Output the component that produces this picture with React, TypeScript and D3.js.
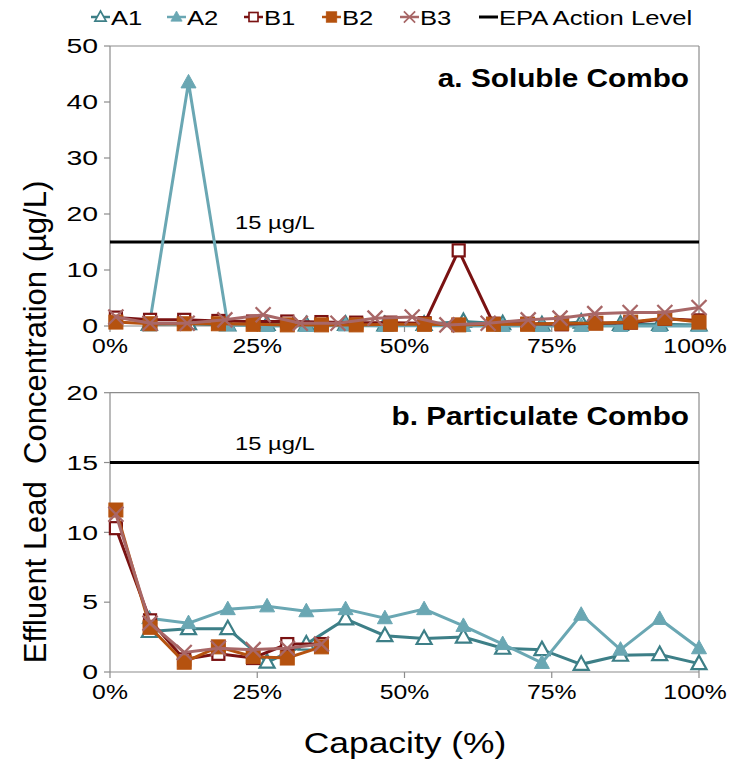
import React from "react";
import * as d3 from "d3";

// ---------- DATA ----------
const xA = [6.67, 13.33, 20, 26.67, 33.33, 40, 46.67, 53.33, 60, 66.67, 73.33, 80, 86.67, 93.33, 100];
const xB = [1, 6.8, 12.6, 18.4, 24.3, 30.1, 35.9, 41.8, 47.6, 53.4, 59.2, 65.1, 70.9, 76.7, 82.5, 88.4, 94.2, 100];
const xB3 = [1, 6.8, 13.1, 19.5, 26, 32.3, 38.7, 45, 51.3, 57.2, 64.2, 71, 76.4, 82.3, 88.3, 94.2, 100];
const xBbot = [1, 6.8, 12.6, 18.4, 24.3, 30.1, 35.9];

const A1_top = [0.3, 0.4, 0.2, 0.3, 0.2, 0.3, 0.2, 0.3, 0.8, 0.4, 0.2, 0.7, 0.3, 0.3, 0.2];
const A2_top = [0.1, 43.5, 0.2, 0.0, 0.0, 0.1, 0.0, 0.1, 0.0, 0.0, 0.0, 0.0, 0.0, 0.0, 0.0];
const B1_top = [1.5, 1.1, 1.1, 0.9, 0.8, 0.8, 0.7, 0.6, 0.6, 0.5, 13.5, 0.4, 0.4, 0.3, 0.5, 0.6, 1.3, 1.0];
const B2_top = [0.7, 0.4, 0.4, 0.4, 0.3, 0.2, 0.2, 0.2, 0.3, 0.3, 0.2, 0.3, 0.3, 0.5, 0.5, 0.7, 1.4, 0.7];
const B3_top = [1.6, 0.5, 0.5, 1.1, 2.0, 0.5, 0.5, 1.4, 1.6, 0.2, 0.5, 1.1, 1.4, 2.2, 2.4, 2.4, 3.3];

const A1_bot = [2.9, 3.1, 3.1, 0.7, 2.0, 3.8, 2.6, 2.4, 2.5, 1.7, 1.6, 0.55, 1.2, 1.25, 0.6];
const A2_bot = [3.85, 3.5, 4.5, 4.7, 4.35, 4.5, 3.85, 4.5, 3.3, 2.0, 0.65, 4.1, 1.6, 3.8, 1.7];
const B1_bot = [10.3, 3.7, 0.9, 1.3, 1.0, 2.0, 2.0];
const B2_bot = [11.6, 3.2, 0.7, 1.8, 1.1, 1.0, 1.8];
const B3_bot = [11.3, 3.5, 1.4, 1.7, 1.6, 1.7, 2.0];

const xTicks = [0, 25, 50, 75, 100];
const xTickLabels = ["0%", "25%", "50%", "75%", "100%"];
const yTicksTop = [0, 10, 20, 30, 40, 50];
const yTicksBot = [0, 5, 10, 15, 20];
const epaLevel = 15;
const legendNames = ["A1", "A2", "B1", "B2", "B3", "EPA Action Level"];

// ---------- STYLE ----------
const C = {
  A1: "#3d7f87",
  A2: "#6aa7b3",
  B1: "#7a1212",
  B2: "#b5520f",
  B3: "#a86767",
  axis: "#8c8c8c",
};
const FONT = "'Liberation Sans', Arial, sans-serif";

type Kind = "triOpen" | "triFill" | "sqOpen" | "sqFill" | "x";

function Marker({ kind, x, y, color }: { kind: Kind; x: number; y: number; color: string }) {
  if (kind === "triOpen" || kind === "triFill") {
    const p = `M${x},${y - 8} L${x + 7.5},${y + 5.5} L${x - 7.5},${y + 5.5} Z`;
    return <path d={p} fill={kind === "triFill" ? color : "#fff"} stroke={color} strokeWidth={kind === "triFill" ? 1 : 2.2} />;
  }
  if (kind === "sqOpen" || kind === "sqFill") {
    const s = kind === "sqFill" ? 14 : 12;
    return (
      <rect x={x - s / 2} y={y - s / 2} width={s} height={s}
        fill={kind === "sqFill" ? color : "#fff"} stroke={color} strokeWidth={kind === "sqFill" ? 1 : 2.2} />
    );
  }
  const r = 7.5;
  return (
    <path d={`M${x - r},${y - r} L${x + r},${y + r} M${x - r},${y + r} L${x + r},${y - r}`}
      stroke={color} strokeWidth={2.3} fill="none" />
  );
}

function T({ x, y, children, size, anchor = "start", sx = 1.25, bold = false }: any) {
  return (
    <g transform={`translate(${x},${y}) scale(${sx},1)`}>
      <text x={0} y={0} fontSize={size} textAnchor={anchor} fontFamily={FONT}
        fontWeight={bold ? "bold" : "normal"} fill="#000">{children}</text>
    </g>
  );
}

const X0 = 110, X1 = 699;

function Panel({ top, bottom, yMax, yTicks, series, title, titleY, labelY }: any) {
  const x = d3.scaleLinear().domain([0, 100]).range([X0, X1]);
  const y = d3.scaleLinear().domain([0, yMax]).range([bottom, top]);
  const line = d3.line<[number, number]>().x((d) => x(d[0])).y((d) => y(d[1]));
  return (
    <g>
      <line x1={X0} x2={X1} y1={top} y2={top} stroke={C.axis} strokeWidth={1.2} />
      <line x1={X1} x2={X1} y1={top} y2={bottom} stroke={C.axis} strokeWidth={1.2} />
      <line x1={X0} x2={X0} y1={top} y2={bottom} stroke={C.axis} strokeWidth={1.2} />
      <line x1={X0} x2={X1} y1={bottom} y2={bottom} stroke={C.axis} strokeWidth={1.2} />
      {yTicks.map((t: number) => (
        <g key={"y" + t}>
          <line x1={X0 - 6} x2={X0} y1={y(t)} y2={y(t)} stroke={C.axis} strokeWidth={1.2} />
          <T x={98} y={y(t) + 7.3} size={20} anchor="end" sx={1.42}>{t}</T>
        </g>
      ))}
      {xTicks.map((t: number, i: number) => (
        <g key={"x" + t}>
          <line x1={x(t)} x2={x(t)} y1={bottom} y2={bottom + 6} stroke={C.axis} strokeWidth={1.2} />
          <T x={i === xTicks.length - 1 ? x(t) - 4 : x(t)} y={bottom + labelY} size={19.5} anchor="middle" sx={1.27}>{xTickLabels[i]}</T>
        </g>
      ))}
      <line x1={X0} x2={X1} y1={y(epaLevel)} y2={y(epaLevel)} stroke="#000" strokeWidth={3} />
      <T x={235} y={y(epaLevel) - 13} size={19} sx={1.25}>15 µg/L</T>
      {series.map((s: any, k: number) => {
        const pts: [number, number][] = s.xs.map((xv: number, i: number) => [xv, s.ys[i]]);
        return (
          <g key={k}>
            <path d={line(pts) || ""} fill="none" stroke={s.color} strokeWidth={3} />
            {pts.map((p, i) => (
              <Marker key={i} kind={s.kind} x={x(p[0])} y={y(p[1])} color={s.color} />
            ))}
          </g>
        );
      })}
      <T x={689} y={titleY} size={25} anchor="end" bold sx={1.19}>{title}</T>
    </g>
  );
}

export default function App() {
  const topSeries = [
    { xs: xA, ys: A1_top, color: C.A1, kind: "triOpen" },
    { xs: xA, ys: A2_top, color: C.A2, kind: "triFill" },
    { xs: xB, ys: B1_top, color: C.B1, kind: "sqOpen" },
    { xs: xB, ys: B2_top, color: C.B2, kind: "sqFill" },
    { xs: xB3, ys: B3_top, color: C.B3, kind: "x" },
  ];
  const botSeries = [
    { xs: xA, ys: A1_bot, color: C.A1, kind: "triOpen" },
    { xs: xA, ys: A2_bot, color: C.A2, kind: "triFill" },
    { xs: xBbot, ys: B1_bot, color: C.B1, kind: "sqOpen" },
    { xs: xBbot, ys: B2_bot, color: C.B2, kind: "sqFill" },
    { xs: xBbot, ys: B3_bot, color: C.B3, kind: "x" },
  ];
  const legendKinds: (Kind | "line")[] = ["triOpen", "triFill", "sqOpen", "sqFill", "x", "line"];
  const legendColors = [C.A1, C.A2, C.B1, C.B2, C.B3, "#000"];
  const legendX = [91, 167, 244, 322, 400, 479];
  return (
    <svg width={729} height={759} style={{ position: "absolute", left: 0, top: 0, background: "#fff" }}>
      <rect width={729} height={759} fill="#fff" />
      {legendNames.map((n, i) => (
        <g key={n}>
          <line x1={legendX[i]} x2={legendX[i] + 19} y1={17} y2={17} stroke={legendColors[i]} strokeWidth={legendKinds[i] === "line" ? 3 : 2.5} />
          {legendKinds[i] !== "line" && (
            <g transform={`translate(${legendX[i] + 9.5},17) scale(0.75)`}>
              <Marker kind={legendKinds[i] as Kind} x={0} y={0} color={legendColors[i]} />
            </g>
          )}
          <T x={legendX[i] + 20} y={25} size={20.5} sx={1.25}>{n}</T>
        </g>
      ))}
      <Panel top={46} bottom={326} yMax={50} yTicks={yTicksTop} series={topSeries}
        title="a. Soluble Combo" titleY={87} labelY={27} />
      <Panel top={392.7} bottom={672} yMax={20} yTicks={yTicksBot} series={botSeries}
        title="b. Particulate Combo" titleY={425} labelY={27} />
      <g transform="translate(46,422) rotate(-90)">
        <text x={0} y={0} fontSize={31} textAnchor="middle" fontFamily={FONT} fill="#000" style={{ whiteSpace: "pre" }}>
          {"Effluent Lead  Concentration (µg/L)"}
        </text>
      </g>
      <T x={405} y={753} size={29} anchor="middle" sx={1.22}>Capacity (%)</T>
    </svg>
  );
}
